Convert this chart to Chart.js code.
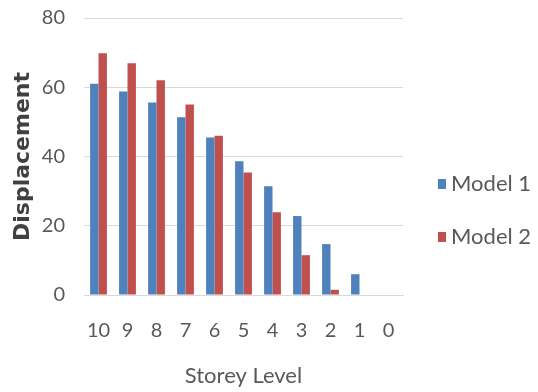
<!DOCTYPE html>
<html>
<head>
<meta charset="utf-8">
<script src="https://cdn.jsdelivr.net/npm/chart.js@4/dist/chart.umd.min.js"></script>
<style>
  html, body { margin: 0; padding: 0; background: #ffffff; }
  #wrap { width: 538px; height: 392px; }
</style>
</head>
<body>
<div id="wrap"><canvas id="c" width="538" height="392"></canvas></div>
<script>
// Storey levels along the x axis, top storey first
const storeys = ['10', '9', '8', '7', '6', '5', '4', '3', '2', '1', '0'];
// Lateral displacement per storey
const model1 = [61, 58.8, 55.6, 51.3, 45.5, 38.6, 31.4, 22.8, 14.7, 6, 0];
const model2 = [69.8, 66.9, 62, 55, 46, 35.4, 23.9, 11.5, 1.5, 0, 0];
const yTicks = [0, 20, 40, 60, 80];

const FONT = "Lato, 'Liberation Sans', Arial, sans-serif";
const TEXT = '#595959';

// Legend to the right of the plot: small square swatch followed by the series name
const sideLegend = {
  id: 'sideLegend',
  afterDraw(chart) {
    const { ctx, chartArea } = chart;
    const x = chartArea.right + 35;
    const y0 = chartArea.top + 166;
    ctx.save();
    ctx.font = '22px ' + FONT;
    ctx.textBaseline = 'middle';
    ctx.textAlign = 'left';
    chart.data.datasets.forEach((ds, i) => {
      const y = y0 + i * 53;
      ctx.fillStyle = ds.backgroundColor;
      ctx.fillRect(x, y - 5, 8, 10);
      ctx.fillStyle = TEXT;
      ctx.fillText(ds.label, x + 13, y);
    });
    ctx.restore();
  }
};

new Chart(document.getElementById('c'), {
  type: 'bar',
  data: {
    labels: storeys,
    datasets: [
      { label: 'Model 1', data: model1, backgroundColor: '#4f81bd',
        categoryPercentage: 0.58, barPercentage: 1.0 },
      { label: 'Model 2', data: model2, backgroundColor: '#c0504d',
        categoryPercentage: 0.58, barPercentage: 1.0 }
    ]
  },
  plugins: [sideLegend],
  options: {
    responsive: false,
    animation: false,
    layout: { padding: { left: 0, right: 135, top: 18, bottom: 0 } },
    plugins: {
      tooltip: { enabled: false },
      legend: { display: false }
    },
    scales: {
      x: {
        afterFit: (axis) => { axis.height = 97; axis.paddingLeft = 0; axis.paddingRight = 0; },
        grid: { display: false, drawTicks: false },
        border: { display: true, color: '#d9d9d9', width: 1 },
        ticks: { color: TEXT, font: { family: FONT, size: 20 }, padding: 24,
                 autoSkip: false, maxRotation: 0, minRotation: 0 },
        title: { display: true, text: 'Storey Level', color: TEXT,
                 font: { family: FONT, size: 22 }, padding: { top: 20, bottom: 3 } }
      },
      y: {
        min: 0, max: 80,
        afterBuildTicks: (axis) => { axis.ticks = yTicks.map(v => ({ value: v })); },
        afterFit: (axis) => { axis.width = 84; axis.paddingTop = 0; axis.paddingBottom = 0; },
        grid: { color: '#d9d9d9', drawTicks: false },
        border: { display: false },
        ticks: { color: TEXT, font: { family: FONT, size: 20 }, padding: 19 },
        title: { display: true, text: 'Displacement', color: '#404040',
                 font: { family: "'DejaVu Sans', sans-serif", size: 22, weight: 'bold' },
                 padding: { top: 10, bottom: 0 } }
      }
    }
  }
});
</script>
</body>
</html>
